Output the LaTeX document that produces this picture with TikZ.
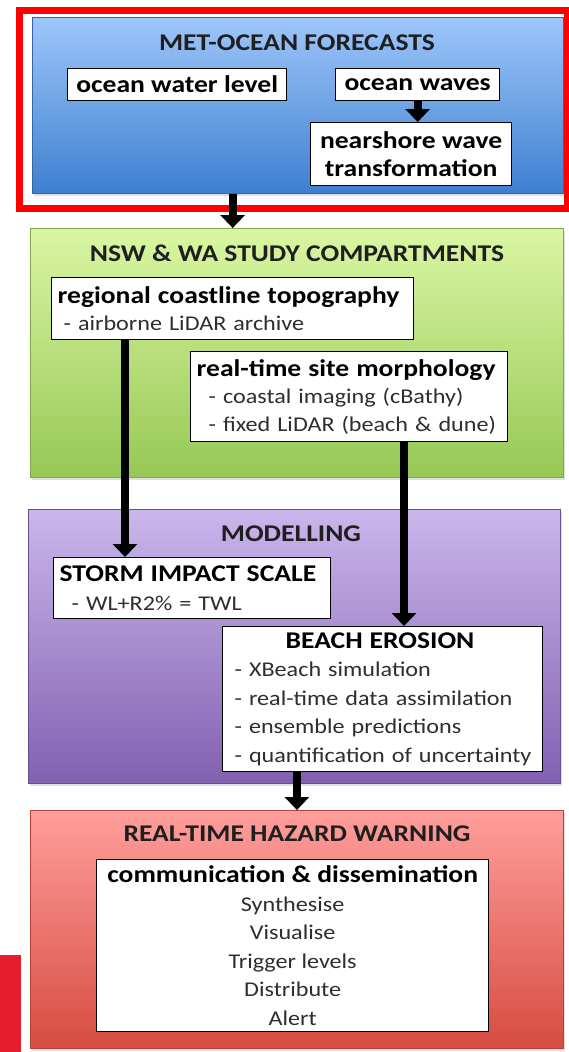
\documentclass[tikz,border=0pt]{standalone}
\usepackage{fontspec}
\setmainfont{Carlito}[FakeStretch=1.15]
\usetikzlibrary{arrows.meta,shadows}

\definecolor{blueTop}{RGB}{158,198,250}
\definecolor{blueBot}{RGB}{62,128,208}
\definecolor{greenTop}{RGB}{218,246,162}
\definecolor{greenBot}{RGB}{150,200,86}
\definecolor{purpTop}{RGB}{202,182,236}
\definecolor{purpBot}{RGB}{130,96,176}
\definecolor{pinkTop}{RGB}{255,158,156}
\definecolor{pinkBot}{RGB}{214,76,64}
\definecolor{frameRed}{RGB}{255,0,0}
\definecolor{barRed}{RGB}{232,30,46}
\newcommand{\boxhead}{\fontsize{24}{28.5}\selectfont\bfseries\color{black}}

\begin{document}
\begin{tikzpicture}[
    x=1pt, y=-1pt,
    panel/.style={rectangle, anchor=north west, draw=#1, line width=0.8pt,
      drop shadow={opacity=0.25, shadow xshift=2pt, shadow yshift=-3pt}},
    ttl/.style={font=\fontsize{24}{28}\selectfont\bfseries, text=black!88},
    box/.style={rectangle, anchor=north west, draw=black, fill=white, line width=1.3pt,
      inner xsep=6pt, inner ysep=0pt, align=left, text=black!82,
      font=\fontsize{21}{28.5}\selectfont},
    arr/.style={line width=8pt, -{Triangle[width=24pt,length=13pt]}}
  ]
  \useasboundingbox (0,0) rectangle (568,1052);

  % panels
  \node[panel=blueBot!80!black, top color=blueTop, bottom color=blueBot,
    minimum width=531pt, minimum height=176pt] (met) at (32,17) {};
  \node[panel=greenBot!85!black, top color=greenTop, bottom color=greenBot,
    minimum width=533pt, minimum height=249pt] (nsw) at (30,228) {};
  \node[panel=purpBot!80!black, top color=purpTop, bottom color=purpBot,
    minimum width=532pt, minimum height=274pt] (mod) at (28,509) {};
  \node[panel=pinkBot!85!black, top color=pinkTop, bottom color=pinkBot,
    minimum width=533pt, minimum height=238pt] (haz) at (30,810) {};

  % panel titles
  \node[ttl] (metttl) at (297,43) {MET-OCEAN FORECASTS};
  \node[ttl] (nswttl) at (297,253) {NSW \& WA STUDY COMPARTMENTS};
  \node[ttl] (modttl) at (291,534) {MODELLING};
  \node[ttl] (hazttl) at (297,834) {REAL-TIME HAZARD WARNING};

  % met-ocean boxes
  \node[box, align=center, minimum width=219pt, minimum height=32pt] (owl) at (67,68)
    {{\boxhead ocean water level}};
  \node[box, align=center, minimum width=164pt, minimum height=32pt] (ow) at (335,68)
    {{\boxhead ocean waves}};
  \node[box, align=center, minimum width=201pt, minimum height=63pt] (nwt) at (310,122)
    {{\boxhead nearshore wave}\\{\boxhead transformation}};

  % study compartments
  \node[box, minimum width=362pt, minimum height=62pt, text width=350pt] (rct) at (51,277)
    {{\boxhead regional coastline topography}\\[-1pt]
     \hspace*{6pt}- airborne LiDAR archive};
  \node[box, minimum width=317pt, minimum height=90pt, text width=305pt] (rtsm) at (190,351)
    {{\boxhead real-time site morphology}\\[-1pt]
     \hspace*{12pt}- coastal imaging (cBathy)\\[-1pt]
     \hspace*{12pt}- fixed LiDAR (beach \& dune)};

  % modelling
  \node[box, minimum width=277pt, minimum height=61pt, text width=265pt] (sis) at (53,557)
    {{\boxhead STORM IMPACT SCALE}\\
     \hspace*{12pt}- WL+R2\% = TWL};
  \node[box, minimum width=320pt, minimum height=145pt, text width=308pt,
    inner xsep=6pt] (be) at (222,626)
    {\hspace*{57pt}{\boxhead BEACH EROSION}\\
     \hspace*{6pt}- XBeach simulation\\
     \hspace*{6pt}- real-time data assimilation\\
     \hspace*{6pt}- ensemble predictions\\
     \hspace*{6pt}- quantification of uncertainty};

  % hazard warning
  \node[box, align=center, minimum width=392pt, minimum height=172pt] (cd) at (96,859)
    {{\boxhead communication \& dissemination}\\
     Synthesise\\ Visualise\\ Trigger levels\\ Distribute\\ Alert};

  % highlight frame and corner bar
  \draw[frameRed, line width=7pt] (19.5,10.5) rectangle (567,208.5);
  \fill[barRed] (0,955) rectangle (21,1052);

  % arrows
  \draw[arr] (ow.south) -- (ow.south |- nwt.north);
  \draw[arr] (rct.north |- met.south) -- (rct.north |- nsw.north);
  \draw[arr] ([xshift=74pt]rct.south west) -- ([xshift=72pt]sis.north west);
  \draw[arr] ([xshift=214pt]rtsm.south west) -- ([xshift=182pt]be.north west);
  \draw[arr] (haz.north |- be.south) -- (haz.north);
\end{tikzpicture}
\end{document}
